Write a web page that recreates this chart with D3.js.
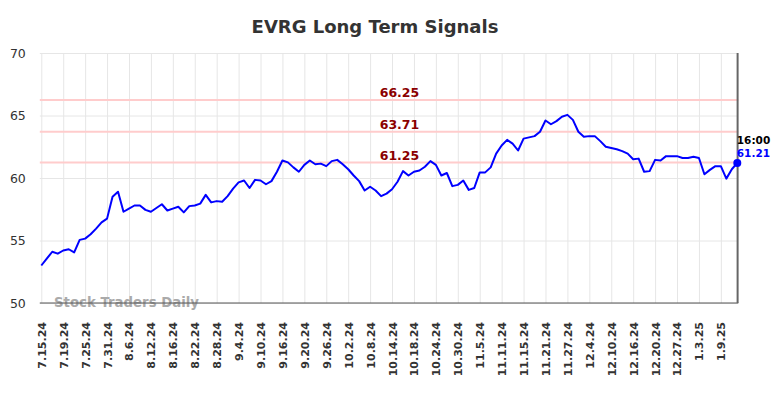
<!DOCTYPE html>
<html>
<head>
<meta charset="utf-8">
<script src="https://cdn.jsdelivr.net/npm/d3@7/dist/d3.min.js"></script>
<style>
  html, body { margin: 0; padding: 0; background: #fff; }
  svg { display: block; font-family: "DejaVu Sans", sans-serif; }
</style>
</head>
<body>
<svg id="chart" width="784" height="398"></svg>
<script>
const dates = [
  "7.15.24","7.16.24","7.17.24","7.18.24","7.19.24","7.22.24","7.23.24","7.24.24","7.25.24","7.26.24","7.29.24","7.30.24","7.31.24",
  "8.1.24","8.2.24","8.5.24","8.6.24","8.7.24","8.8.24","8.9.24","8.12.24","8.13.24","8.14.24","8.15.24","8.16.24","8.19.24","8.20.24","8.21.24","8.22.24","8.23.24","8.26.24","8.27.24","8.28.24","8.29.24","8.30.24",
  "9.3.24","9.4.24","9.5.24","9.6.24","9.9.24","9.10.24","9.11.24","9.12.24","9.13.24","9.16.24","9.17.24","9.18.24","9.19.24","9.20.24","9.23.24","9.24.24","9.25.24","9.26.24","9.27.24","9.30.24",
  "10.1.24","10.2.24","10.3.24","10.4.24","10.7.24","10.8.24","10.9.24","10.10.24","10.11.24","10.14.24","10.15.24","10.16.24","10.17.24","10.18.24","10.21.24","10.22.24","10.23.24","10.24.24","10.25.24","10.28.24","10.29.24","10.30.24","10.31.24",
  "11.1.24","11.4.24","11.5.24","11.6.24","11.7.24","11.8.24","11.11.24","11.12.24","11.13.24","11.14.24","11.15.24","11.18.24","11.19.24","11.20.24","11.21.24","11.22.24","11.25.24","11.26.24","11.27.24","11.29.24",
  "12.2.24","12.3.24","12.4.24","12.5.24","12.6.24","12.9.24","12.10.24","12.11.24","12.12.24","12.13.24","12.16.24","12.17.24","12.18.24","12.19.24","12.20.24","12.23.24","12.24.24","12.26.24","12.27.24","12.30.24","12.31.24",
  "1.2.25","1.3.25","1.6.25","1.7.25","1.8.25","1.9.25","1.10.25","1.13.25","1.14.25"
];

const prices = [
  53.0,53.55,54.1,53.95,54.2,54.3,54.05,55.05,55.15,55.5,55.95,56.45,56.75,
  58.5,58.9,57.3,57.55,57.8,57.8,57.45,57.3,57.6,57.9,57.4,57.55,57.7,57.25,57.75,57.8,57.95,58.65,58.05,58.15,58.1,58.55,
  59.15,59.65,59.8,59.2,59.85,59.8,59.5,59.75,60.5,61.4,61.25,60.85,60.5,61.05,61.4,61.1,61.15,60.95,61.35,61.45,
  61.1,60.7,60.2,59.75,59.0,59.3,59.0,58.55,58.75,59.1,59.7,60.55,60.2,60.5,60.6,60.9,61.35,61.05,60.2,60.4,59.35,59.45,59.8,
  59.05,59.2,60.45,60.45,60.85,61.95,62.6,63.05,62.75,62.2,63.15,63.25,63.35,63.7,64.6,64.3,64.55,64.9,65.05,64.65,
  63.7,63.3,63.35,63.35,62.95,62.5,62.4,62.3,62.15,61.95,61.5,61.55,60.5,60.55,61.45,61.4,61.75,61.75,61.75,61.6,61.6,
  61.7,61.6,60.3,60.65,60.95,60.95,59.95,60.7,61.21
];

const xTickLabels = [
  "7.15.24","7.19.24","7.25.24","7.31.24","8.6.24","8.12.24","8.16.24","8.22.24","8.28.24","9.4.24","9.10.24",
  "9.16.24","9.20.24","9.26.24","10.2.24","10.8.24","10.14.24","10.18.24","10.24.24","10.30.24","11.5.24",
  "11.11.24","11.15.24","11.21.24","11.27.24","12.4.24","12.10.24","12.16.24","12.20.24","12.27.24","1.3.25","1.9.25"
];
const yTicks = [50, 55, 60, 65, 70];
const signalLevels = [66.25, 63.71, 61.25];
const titleText = "EVRG Long Term Signals";
const watermarkText = "Stock Traders Daily";
const lastTimeLabel = "16:00";

(function () {
const svg = d3.select("#chart");
const pLeft = 41.3, pRight = 737.3, pTop = 53, pBottom = 303;

const x = d3.scalePoint().domain(dates).range([pLeft, pRight]);
const y = d3.scaleLinear().domain([50, 70]).range([pBottom, pTop]);

svg.append("rect").attr("width", 784).attr("height", 398).attr("fill", "#fff");

// Title
svg.append("text")
  .attr("x", 375).attr("y", 32.5)
  .attr("text-anchor", "middle")
  .attr("font-size", 18).attr("font-weight", "bold")
  .attr("fill", "#333")
  .text(titleText);

// Horizontal grid
const yAxis = d3.axisLeft(y).tickValues(yTicks).tickSize(-(pRight - pLeft + 2)).tickPadding(14);
const gy = svg.append("g").attr("transform", `translate(${pLeft - 1.5},0)`).call(yAxis);
gy.select(".domain").remove();
gy.selectAll(".tick line").attr("stroke", "#e6e6e6").attr("stroke-width", 1);
gy.selectAll(".tick text").attr("font-size", 12.5).attr("fill", "#333")
  .attr("font-family", "DejaVu Sans, sans-serif");

// Vertical grid + x labels
const xAxis = d3.axisBottom(x).tickValues(xTickLabels).tickSize(-(pBottom - pTop)).tickPadding(0);
const gx = svg.append("g").attr("transform", `translate(0,${pBottom})`).call(xAxis);
gx.select(".domain").remove();
gx.selectAll(".tick line").attr("stroke", "#e6e6e6").attr("stroke-width", 1);
gx.selectAll(".tick text")
  .attr("font-size", 11).attr("font-weight", "bold").attr("fill", "#333")
  .attr("font-family", "DejaVu Sans, sans-serif")
  .attr("text-anchor", "end")
  .attr("transform", "rotate(-90)")
  .attr("x", -19).attr("y", 0).attr("dy", "0.36em");

// Signal lines
svg.selectAll(".sig").data(signalLevels).enter().append("line")
  .attr("x1", pLeft - 1.5).attr("x2", pRight + 1)
  .attr("y1", d => y(d)).attr("y2", d => y(d))
  .attr("stroke", "#ffcccc").attr("stroke-width", 2);
svg.selectAll(".sigLabel").data(signalLevels).enter().append("text")
  .attr("x", 399.5).attr("y", d => y(d) - 2.5)
  .attr("text-anchor", "middle")
  .attr("font-size", 12.5).attr("font-weight", "bold")
  .attr("fill", "#8b0000")
  .text(d => d.toFixed(2));

// Watermark
svg.append("text")
  .attr("x", 54).attr("y", 307)
  .attr("font-size", 13.3).attr("font-weight", "bold")
  .attr("fill", "#aaa")
  .text(watermarkText);

// Axes lines
svg.append("line").attr("x1", pLeft - 1.5).attr("x2", pRight + 1).attr("y1", pBottom).attr("y2", pBottom)
  .attr("stroke", "#555").attr("stroke-width", 1.2);
svg.append("line").attr("x1", pRight + 0.3).attr("x2", pRight + 0.3).attr("y1", pTop).attr("y2", pBottom)
  .attr("stroke", "#666").attr("stroke-width", 2);

// Price line
const line = d3.line().x((d, i) => x(dates[i])).y(d => y(d));
svg.append("path").datum(prices)
  .attr("d", line)
  .attr("fill", "none").attr("stroke", "#0000ff").attr("stroke-width", 2)
  .attr("stroke-linejoin", "round");

// Last point
const lastI = prices.length - 1;
const lx = x(dates[lastI]), ly = y(prices[lastI]);
svg.append("circle").attr("cx", lx).attr("cy", ly).attr("r", 4).attr("fill", "#0000ff");
svg.append("text").attr("x", lx - 0.5).attr("y", ly - 19)
  .attr("font-size", 10.5).attr("font-weight", "bold").attr("fill", "#000")
  .text(lastTimeLabel);
svg.append("text").attr("x", lx - 0.5).attr("y", ly - 6)
  .attr("font-size", 10.5).attr("font-weight", "bold").attr("fill", "#0000ff")
  .text(prices[lastI].toFixed(2));
})();
</script>
</body>
</html>
